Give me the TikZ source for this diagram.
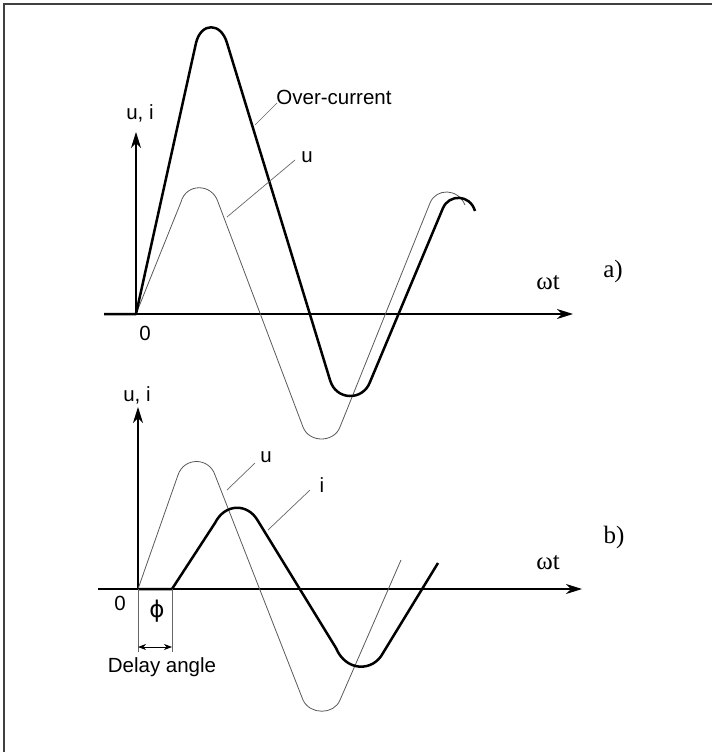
\documentclass[tikz,border=0pt]{standalone}
\usepackage{fontspec}
\setmainfont{Liberation Sans}
\newfontfamily\serifff{Liberation Serif}
\newfontfamily\symfont{DejaVu Sans}
\usetikzlibrary{arrows.meta}
\tikzset{
  frame/.style={line width=2pt, black!75},
  axis/.style={line width=1.1pt, black},
  axisarrow/.style={axis, -{Stealth[length=16pt,width=10pt,inset=5pt]}},
  thick curve/.style={line width=2.5pt, black, line join=round},
  thin curve/.style={line width=0.8pt, black!65},
  leader/.style={line width=0.7pt, black!60},
  lbl/.style={font=\fontsize{20.5}{24}\selectfont, inner sep=0pt},
  slbl/.style={font=\serifff\fontsize{25}{28}\selectfont, inner sep=0pt},
  dim/.style={line width=0.7pt, black!60},
  dimarrow/.style={line width=0.8pt, black, {Stealth[length=8pt,width=6pt,inset=2.5pt]}-{Stealth[length=8pt,width=6pt,inset=2.5pt]}},
}
\begin{document}
\begin{tikzpicture}[x=1pt,y=-1pt]
\useasboundingbox (0,0) rectangle (712,752);
\draw[frame] (4,752) -- (4,4) -- (712,4);

% ---------- panel a ----------
\coordinate (aL) at (104,314);
\coordinate (aO) at (136,314);
\coordinate (aX) at (573,314);
\coordinate (aY) at (136,132);
\draw[axisarrow] (aL) -- (aX);
\draw[axisarrow] (aO) -- (aY);
\draw[thin curve] (aO) -- (181,202) .. controls (186,183) and (212,183) .. (218,202)
  -- (303,427) .. controls (309,443) and (334,443) .. (340,427)
  -- (430,203) .. controls (436,188) and (458,188) .. (465,205);
\draw[thick curve] (aL) -- (aO) -- (196,43) .. controls (201,22) and (221,22) .. (227,43)
  -- (330,380) .. controls (336,401) and (363,401) .. (370,382)
  -- (443,208) .. controls (449,194) and (470,194) .. (475,211);
\node[lbl] (aui) at (140,113) {u, i};
\node[lbl] (a0) at (145,333) {0};
\node[lbl] (aoc) at (334,97) {Over-current};
\node[lbl] (au) at (307,157) {u};
\node[slbl] (awt) at (548,283) {ωt};
\node[slbl] (alab) at (613,271) {a)};
\coordinate (aocS) at (255,125);
\coordinate (aocE) at (277,103);
\coordinate (auS) at (227,217);
\coordinate (auE) at (295,160);
\draw[leader] (aocS) -- (aocE);
\draw[leader] (auS) -- (auE);

% ---------- panel b ----------
\coordinate (bL) at (98,589);
\coordinate (bO) at (138,589);
\coordinate (bX) at (582,589);
\coordinate (bY) at (138,407);
\coordinate (bD) at (172,589);
\draw[axisarrow] (bL) -- (bX);
\draw[axisarrow] (bO) -- (bY);
\draw[thin curve] (bO) -- (178,475) .. controls (184,457) and (209,457) .. (215,475)
  -- (303,700) .. controls (310,715) and (334,715) .. (340,700)
  -- (401,560);
\draw[thick curve] (bO) -- (bD) -- (215,523) .. controls (225,503) and (248,503) .. (258,521)
  -- (336,648) .. controls (346,672) and (373,672) .. (383,653)
  -- (438,563);
\coordinate (bD1) at (138,652);
\coordinate (bD2) at (172,652);
\coordinate (bA1) at (138,647);
\coordinate (bA2) at (172,647);
\draw[dim] (bO) -- (bD1);
\draw[dim] (bD) -- (bD2);
\draw[dimarrow] (bA1) -- (bA2);
\node[lbl] (bui) at (137,395) {u, i};
\node[lbl] (b0) at (120,603) {0};
\node[lbl] (bu) at (266,457) {u};
\node[lbl] (bi) at (322,485) {i};
\node[font=\symfont\fontsize{23}{26}\selectfont, inner sep=0pt] (bphi) at (157,611) {ϕ};
\node[lbl] (bdl) at (162,667) {Delay angle};
\node[slbl] (bwt) at (548,563) {ωt};
\node[slbl] (blab) at (614,537) {b)};
\coordinate (buS) at (227,490);
\coordinate (buE) at (255,463);
\coordinate (biS) at (268,530);
\coordinate (biE) at (310,490);
\draw[leader] (buS) -- (buE);
\draw[leader] (biS) -- (biE);
\end{tikzpicture}
\end{document}
